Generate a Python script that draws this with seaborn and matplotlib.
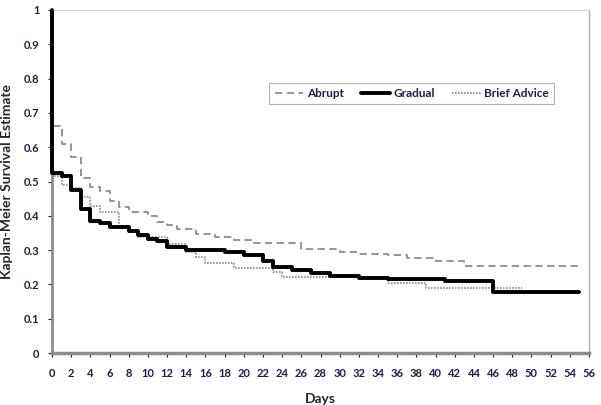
import matplotlib
matplotlib.use("Agg")
import matplotlib.pyplot as plt
import pandas as pd
import seaborn as sns

""" Données lues sur la figure (courbes de Kaplan-Meier, en escalier) """
abrupt_days = [0, 0, 1, 2, 3, 4, 5, 6, 7, 8, 10, 11, 12, 13, 15, 17, 19, 21, 26, 30, 32, 35, 37, 40, 43, 55]
abrupt_surv = [1, 0.662, 0.61, 0.57, 0.51, 0.484, 0.472, 0.443, 0.426, 0.41, 0.40, 0.382, 0.373, 0.361,
               0.347, 0.338, 0.33, 0.322, 0.303, 0.295, 0.29, 0.285, 0.277, 0.268, 0.255, 0.255]

gradual_days = [0, 0, 1, 2, 3, 4, 5, 6, 8, 9, 10, 11, 12, 14, 18, 20, 22, 23, 25, 27, 29, 32, 35, 41, 46, 55]
gradual_surv = [1, 0.525, 0.515, 0.475, 0.42, 0.385, 0.378, 0.368, 0.355, 0.343, 0.333, 0.327, 0.31, 0.30,
                0.294, 0.286, 0.268, 0.25, 0.242, 0.232, 0.225, 0.22, 0.215, 0.21, 0.177, 0.177]

brief_days = [0, 0, 1, 2, 3, 4, 5, 7, 8, 9, 12, 14, 15, 16, 19, 23, 24, 35, 39, 49]
brief_surv = [1, 0.515, 0.49, 0.48, 0.455, 0.43, 0.41, 0.364, 0.358, 0.338, 0.318, 0.295, 0.28, 0.262,
              0.247, 0.236, 0.222, 0.205, 0.19, 0.19]

groups = ["Abrupt", "Gradual", "Brief Advice"]
x_ticks = list(range(0, 57, 2))
y_ticks = [0, 0.1, 0.2, 0.3, 0.4, 0.5, 0.6, 0.7, 0.8, 0.9, 1]
y_labels = ["0", "0.1", "0.2", "0.3", "0.4", "0.5", "0.6", "0.7", "0.8", "0.9", "1"]

df = pd.concat([
    pd.DataFrame({"Days": abrupt_days, "Survie": abrupt_surv, "Groupe": "Abrupt"}),
    pd.DataFrame({"Days": gradual_days, "Survie": gradual_surv, "Groupe": "Gradual"}),
    pd.DataFrame({"Days": brief_days, "Survie": brief_surv, "Groupe": "Brief Advice"}),
], ignore_index=True)

""" Style """
sns.set_style("white")
plt.rcParams['font.family'] = ['Lato', 'DejaVu Sans']

styles = {
    "Abrupt": dict(color="#8c8c8c", linestyle=(0, (4, 2.5)), linewidth=1.3),
    "Gradual": dict(color="black", linestyle="-", linewidth=2.8),
    "Brief Advice": dict(color="#8c8c8c", linestyle=(0, (1, 0.8)), linewidth=1.2),
}

fig = plt.figure(figsize=(6.01, 4.05), dpi=100)
ax = fig.add_axes([52 / 601, 1 - 353 / 405, 537 / 601, 343 / 405])

# ordre de tracé : gris d'abord, la courbe noire par-dessus (et au-dessus des axes)
for z, g in zip([3, 3.1, 3.2], ["Brief Advice", "Abrupt", "Gradual"]):
    sub = df[df["Groupe"] == g]
    sns.lineplot(data=sub, x="Days", y="Survie", estimator=None, sort=False,
                 drawstyle="steps-post", ax=ax, label=g, zorder=z, clip_on=False, **styles[g])

ax.set_xlim(0, 56)
ax.set_ylim(0, 1)
ax.set_xticks(x_ticks)
ax.set_yticks(y_ticks)
ax.set_yticklabels(y_labels)
ax.tick_params(axis="both", labelsize=8, colors="#1f1f3f", length=3, width=0.8,
               direction="out", bottom=True, left=True, pad=3)
for lab in ax.get_xticklabels() + ax.get_yticklabels():
    lab.set_fontweight("bold")
ax.tick_params(axis="x", pad=8)
ax.tick_params(axis="y", pad=6)

ax.set_xlabel("Days", fontsize=10, fontweight="bold", labelpad=10)
ax.set_ylabel("Kaplan-Meier Survival Estimate", fontsize=10, fontweight="bold", labelpad=8)

ax.spines["left"].set_color("#8c8c8c")
ax.spines["left"].set_linewidth(2)
ax.spines["bottom"].set_color("#8c8c8c")
ax.spines["bottom"].set_linewidth(2.5)
ax.spines["right"].set_color("#b0b0b0")
ax.spines["right"].set_linewidth(1)
ax.spines["top"].set_color("#d8d8d8")
ax.spines["top"].set_linewidth(0.8)

handles, labels = ax.get_legend_handles_labels()
order = [labels.index(g) for g in groups]
leg = ax.legend([handles[i] for i in order], [labels[i] for i in order], ncol=3,
                loc="upper right", bbox_to_anchor=(0.946, 0.805), frameon=True,
                fancybox=False, edgecolor="#a0a0a0", fontsize=8.5, handlelength=2.4,
                handletextpad=0.3, columnspacing=1.5, borderpad=0.45)
leg.get_frame().set_linewidth(0.8)
for t in leg.get_texts():
    t.set_fontweight("bold")
    t.set_color("#1f1f3f")

fig.savefig("out.png", dpi=100)
